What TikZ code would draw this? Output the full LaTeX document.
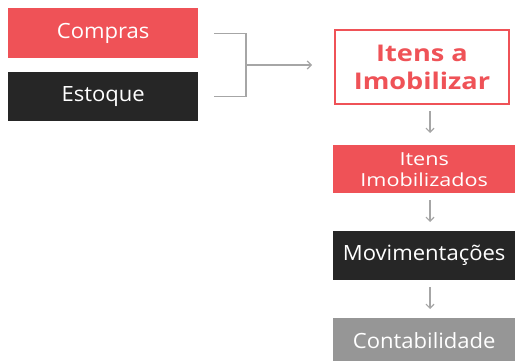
\documentclass[tikz,border=0pt]{standalone}
\usepackage{fontspec}
\setmainfont{Open Sans}
\newfontfamily\fontA[FakeStretch=1.05]{Open Sans}
\newfontfamily\fontB[FakeStretch=1.2]{Open Sans}
\newfontfamily\fontC[FakeStretch=1.18]{Open Sans}
\usetikzlibrary{calc,arrows.meta}
\definecolor{cred}{HTML}{EF5257}
\definecolor{cdark}{HTML}{262626}
\definecolor{cgray}{HTML}{969696}
\definecolor{cline}{HTML}{A6A6A6}
\tikzset{
  box/.style={anchor=north west, inner sep=0pt, align=center, text=white},
  conn/.style={draw=cline, line width=1.2pt},
  arr/.style={conn, -{Straight Barb[length=4pt,width=8pt]}},
}
\begin{document}
\begin{tikzpicture}[x=1pt,y=-1pt]
\useasboundingbox (0,0) rectangle (515,361);
\node[box, fill=cred, minimum width=190pt, minimum height=50pt, font=\fontA\fontsize{21}{24}\selectfont] (compras) at (8,8) {Compras};
\node[box, fill=cdark, minimum width=190pt, minimum height=49pt, font=\fontA\fontsize{21}{24}\selectfont] (estoque) at (8,72) {Estoque};
\node[box, draw=cred, line width=2pt, fill=white, text=cred, minimum width=174pt, minimum height=74pt, font=\fontC\bfseries\fontsize{23}{28}\selectfont] (itens) at (334,29) {Itens a\\Imobilizar};
\node[box, fill=cred, minimum width=182pt, minimum height=48pt, font=\fontB\fontsize{18}{21}\selectfont] (imob) at (333,145) {Itens\\Imobilizados};
\node[box, fill=cdark, minimum width=182pt, minimum height=49pt, font=\fontA\fontsize{21}{24}\selectfont] (mov) at (333,231) {Movimentações};
\node[box, fill=cgray, minimum width=182pt, minimum height=44pt, font=\fontA\fontsize{21}{24}\selectfont] (cont) at (333,318) {Contabilidade};
\coordinate (b1) at ($(compras.east)+(16,0)$);
\coordinate (b2) at ($(estoque.east)+(16,0)$);
\coordinate (j) at (246,65);
\coordinate (tip) at (312,65);
\draw[conn] (b1) -| (j) |- (b2);
\draw[arr] (j) -- (tip);
\draw[arr] (430,111) -- (430,133);
\draw[arr] (430,200) -- (430,222);
\draw[arr] (430,287) -- (430,309);
\end{tikzpicture}
\end{document}
